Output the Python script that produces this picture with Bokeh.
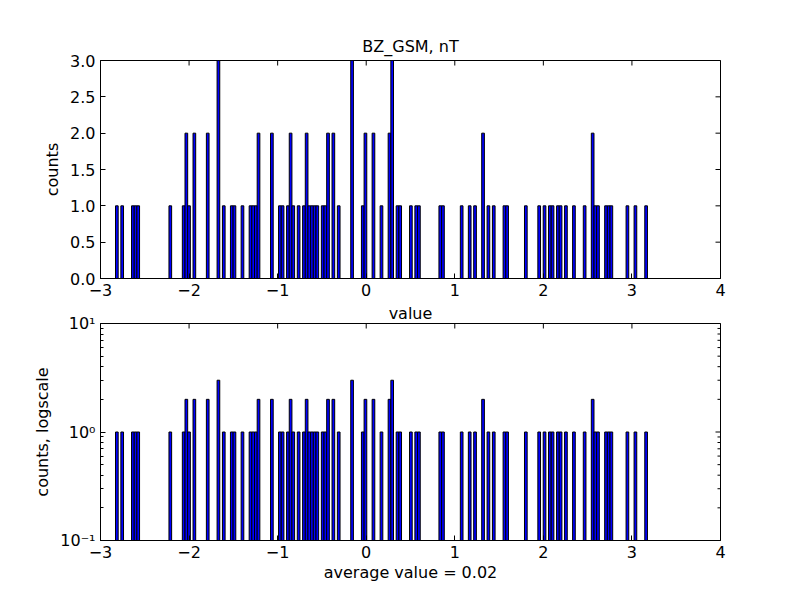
import numpy as np
from bokeh.plotting import figure
from bokeh.layouts import column
from bokeh.models import FixedTicker, Range1d, Title
from bokeh.embed import file_html
from bokeh.resources import INLINE

# ---- data ----
title = "BZ_GSM, nT"
bin_start = -2.8306
bin_width = 0.03018
n_bins = 199
bin_index = [0, 2, 6, 7, 8, 20, 25, 26, 27, 29, 34, 38, 40, 43, 44, 47, 50, 51, 52, 53,
             58, 61, 62, 64, 65, 66, 68, 70, 71, 72, 73, 74, 75, 77, 78, 79, 81, 83, 88,
             92, 93, 96, 99, 102, 103, 105, 106, 110, 112, 113, 121, 122, 129, 132, 134,
             137, 139, 141, 145, 146, 153, 158, 160, 162, 163, 165, 166, 168, 171, 175,
             178, 179, 180, 183, 184, 185, 191, 194, 198]
bin_count = [1, 1, 1, 1, 1, 1, 1, 2, 1, 2, 2, 3, 1, 1, 1, 1, 1, 1, 1, 2,
             2, 1, 1, 1, 2, 1, 1, 1, 2, 1, 1, 1, 1, 1, 1, 2, 2, 1, 3,
             1, 2, 2, 1, 2, 3, 1, 1, 1, 1, 1, 1, 1, 1, 1, 1,
             2, 1, 1, 1, 1, 1, 1, 1, 1, 1, 1, 1, 1, 1, 1,
             2, 1, 1, 1, 1, 1, 1, 1, 1]
x_ticks = [-3, -2, -1, 0, 1, 2, 3, 4]
x_tick_labels = ["\u22123", "\u22122", "\u22121", "0", "1", "2", "3", "4"]
y_ticks = [0.0, 0.5, 1.0, 1.5, 2.0, 2.5, 3.0]
y_tick_labels = ["0.0", "0.5", "1.0", "1.5", "2.0", "2.5", "3.0"]
log_ticks = [0.1, 1, 10]
log_tick_labels = ["10\u207b\u00b9", "10\u2070", "10\u00b9"]
log_minor = [0.2, 0.3, 0.4, 0.5, 0.6, 0.7, 0.8, 0.9, 2, 3, 4, 5, 6, 7, 8, 9]
average_label = "average value = 0.02"

counts = np.zeros(n_bins)
counts[bin_index] = bin_count
centers = bin_start + (np.arange(n_bins) + 0.5) * bin_width

FONT = "DejaVu Sans"
FS = "16px"
X0, X1 = -3, 4


def style(ax):
    ax.major_tick_in = 5
    ax.major_tick_out = 0
    ax.minor_tick_in = 0
    ax.minor_tick_out = 0
    ax.axis_line_color = "black"
    ax.major_tick_line_color = "black"
    ax.major_label_text_font = FONT
    ax.major_label_text_font_size = FS
    ax.major_label_text_color = "black"
    ax.axis_label_text_font = FONT
    ax.axis_label_text_font_size = FS
    ax.axis_label_text_font_style = "normal"
    ax.axis_label_text_color = "black"


def mirror_ticks(p, xt, ytop, yt, xright, size=10):
    # inward ticks on the top and right edges (half of each dash is clipped by the frame)
    p.scatter(x=xt, y=[ytop] * len(xt), marker="dash", size=size, angle=np.pi / 2,
              line_color="black", line_width=1)
    p.scatter(x=[xright] * len(yt), y=yt, marker="dash", size=size,
              line_color="black", line_width=1)


# ---- top: linear counts ----
p1 = figure(width=800, height=300, x_range=Range1d(X0, X1), y_range=Range1d(0, 3),
            output_backend="svg", toolbar_location=None,
            min_border_left=100, min_border_right=80, min_border_top=60, min_border_bottom=22)
p1.vbar(x=centers, width=bin_width, top=counts, bottom=0,
        fill_color="#0000ff", line_color="black", line_width=1)
mirror_ticks(p1, x_ticks, 3, y_ticks, X1)
p1.grid.visible = False
p1.outline_line_color = "black"
p1.title.text = title
p1.title.align = "center"
p1.title.text_font = FONT
p1.title.text_font_size = FS
p1.title.text_font_style = "normal"
p1.title.text_color = "black"
p1.xaxis.ticker = FixedTicker(ticks=x_ticks)
p1.xaxis.major_label_overrides = dict(zip(x_ticks, x_tick_labels))
p1.yaxis.ticker = FixedTicker(ticks=y_ticks)
p1.yaxis.major_label_overrides = dict(zip(y_ticks, y_tick_labels))
p1.yaxis.axis_label = "counts"
style(p1.xaxis[0])
style(p1.yaxis[0])

# ---- bottom: log counts ----
log_top = np.where(counts > 0, counts, 0.1)
p2 = figure(width=800, height=300, x_range=Range1d(X0, X1), y_range=Range1d(0.1, 10),
            y_axis_type="log", output_backend="svg", toolbar_location=None,
            min_border_left=100, min_border_right=80, min_border_top=22, min_border_bottom=60)
p2.vbar(x=centers, width=bin_width, top=log_top, bottom=0.1,
        fill_color="#0000ff", line_color="black", line_width=1)
mirror_ticks(p2, x_ticks, 10, log_ticks, X1)
p2.scatter(x=[X1] * len(log_minor), y=log_minor, marker="dash", size=6,
           line_color="black", line_width=1)
p2.grid.visible = False
p2.outline_line_color = "black"
p2.add_layout(Title(text="value", align="center", text_font=FONT, text_font_size=FS,
                    text_font_style="normal", text_color="black", standoff=2), "above")
p2.xaxis.ticker = FixedTicker(ticks=x_ticks)
p2.xaxis.major_label_overrides = dict(zip(x_ticks, x_tick_labels))
p2.yaxis.ticker = FixedTicker(ticks=log_ticks, minor_ticks=log_minor)
p2.yaxis.major_label_overrides = dict(zip(log_ticks, log_tick_labels))
p2.xaxis.axis_label = average_label
p2.yaxis.axis_label = "counts, logscale"
p2.xaxis.axis_label_standoff = 2
style(p2.xaxis[0])
style(p2.yaxis[0])
p2.yaxis[0].minor_tick_in = 3

layout = column(p1, p2)
open("out.html", "w").write(file_html(layout, INLINE))
